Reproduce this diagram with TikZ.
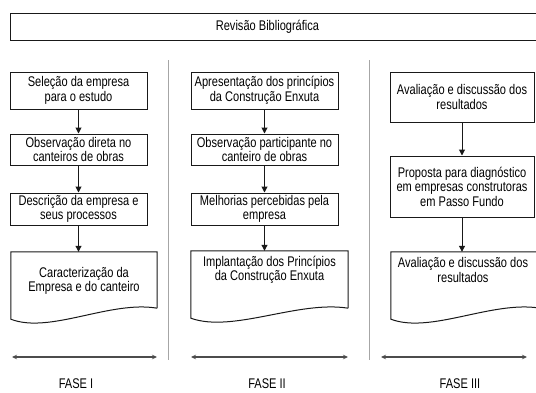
\documentclass[tikz,border=0pt]{standalone}
\usepackage{fontspec}
\setmainfont[FakeStretch=0.79]{Liberation Sans}
\usetikzlibrary{positioning,arrows.meta}

\begin{document}
\begin{tikzpicture}[x=1pt,y=-1pt,
        every node/.style={font=\fontsize{14}{14.5}\selectfont, align=center, inner sep=0pt},
        stepbox/.style={draw=black!90, line width=1pt},
        docframe/.style={draw=none},
        docline/.style={draw=black!90, line width=1pt},
        flow/.style={-{Triangle[length=6pt,width=6pt]}, line width=1pt, draw=black!90},
        span/.style={{Stealth[length=5pt,width=4.5pt]}-{Stealth[length=5pt,width=4.5pt]}, line width=1.1pt, draw=black!70},
        divider/.style={draw=black!35, line width=1pt}]
    \useasboundingbox (0,0) rectangle (536,392);

    % top box
    \node[stepbox, minimum width=535pt, minimum height=27pt] (rev) at (277.5,26.5) {};
    \node (revt) at (267.5,26.5) {Revisão Bibliográfica};

    % dividers
    \coordinate (v1a) at (168,60);
    \coordinate (v1b) at (168,360);
    \coordinate (v2a) at (369,60);
    \coordinate (v2b) at (369,360);
    \draw[divider] (v1a) -- (v1b);
    \draw[divider] (v2a) -- (v2b);

    % fase I
    \node[stepbox, minimum width=137pt, minimum height=37pt] (s11) at (78.5,90.5) {Seleção da empresa\\para o estudo};
    \node[stepbox, minimum width=137pt, minimum height=31pt] (s12) at (78.5,149.5) {Observação direta no\\canteiros de obras};
    \node[stepbox, minimum width=137pt, minimum height=32pt] (s13) at (78.5,209) {Descrição da empresa e\\seus processos};
    \node[docframe, minimum width=146pt, minimum height=56pt] (d1) at (84,280) {};
    \node (d1t) at (84,281) {Caracterização da\\Empresa e do canteiro};
    \draw[docline] (d1.south east) -- (d1.north east) -- (d1.north west) -- ([yshift=-11pt]d1.south west)
        .. controls +(39,15) and +(-47,-8) .. (d1.south east);

    % fase II
    \node[stepbox, minimum width=147pt, minimum height=37pt] (s21) at (264.5,90.5) {Apresentação dos princípios\\da Construção Enxuta};
    \node[stepbox, minimum width=147pt, minimum height=31pt] (s22) at (264.5,149.5) {Observação participante no\\canteiro de obras};
    \node[stepbox, minimum width=147pt, minimum height=32pt] (s23) at (264.5,209) {Melhorias percebidas pela\\empresa};
    \node[docframe, minimum width=157pt, minimum height=57pt] (d2) at (269.5,279.5) {};
    \node (d2t) at (269.5,270) {Implantação dos Princípios\\da Construção Enxuta};
    \draw[docline] (d2.south east) -- (d2.north east) -- (d2.north west) -- ([yshift=-10pt]d2.south west)
        .. controls +(42,15) and +(-50,-8) .. (d2.south east);

    % fase III
    \node[stepbox, minimum width=144pt, minimum height=50pt] (s31) at (462,97) {Avaliação e discussão dos\\resultados};
    \node[stepbox, minimum width=144pt, minimum height=61pt] (s32) at (462,186.5) {Proposta para diagnóstico\\em empresas construtoras\\em Passo Fundo};
    \node[docframe, minimum width=149pt, minimum height=56pt] (d3) at (465.5,280) {};
    \node (d3t) at (463,270) {Avaliação e discussão dos\\resultados};
    \draw[docline] (d3.south east) -- (d3.north east) -- (d3.north west) -- ([yshift=-11pt]d3.south west)
        .. controls +(40,15) and +(-48,-8) .. (d3.south east);

    % flow arrows
    \draw[flow] (s11) -- (s12);
    \draw[flow] (s12) -- (s13);
    \draw[flow] (s13.south) -- (s13.south |- d1.north);
    \draw[flow] (s21) -- (s22);
    \draw[flow] (s22) -- (s23);
    \draw[flow] (s23.south) -- (s23.south |- d2.north);
    \draw[flow] (s31) -- (s32);
    \draw[flow] (s32.south) -- (s32.south |- d3.north);

    % phases
    \coordinate (p1a) at (12,357);
    \coordinate (p1b) at (157,357);
    \coordinate (p2a) at (191,357);
    \coordinate (p2b) at (348,357);
    \coordinate (p3a) at (381,357);
    \coordinate (p3b) at (527,357);
    \draw[span] (p1a) -- (p1b);
    \draw[span] (p2a) -- (p2b);
    \draw[span] (p3a) -- (p3b);
    \node (f1) at (76,384) {FASE I};
    \node (f2) at (267,384) {FASE II};
    \node (f3) at (460,384) {FASE III};
\end{tikzpicture}
\end{document}
